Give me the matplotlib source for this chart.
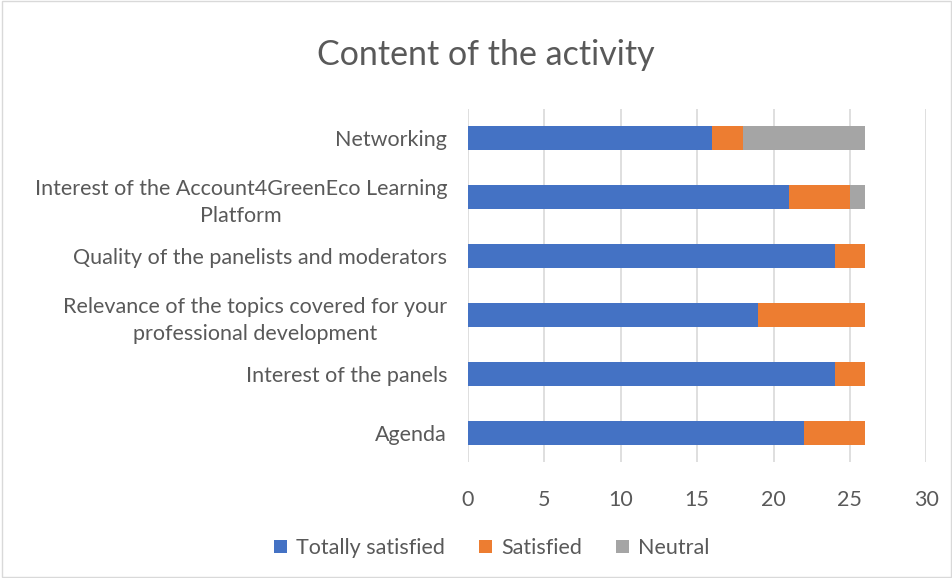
import matplotlib
matplotlib.use("Agg")
import matplotlib.pyplot as plt
import numpy as np

categories = [
    "Agenda",
    "Interest of the panels",
    "Relevance of the topics covered for your\nprofessional development",
    "Quality of the panelists and moderators",
    "Interest of the Account4GreenEco Learning\nPlatform",
    "Networking",
]
totally_satisfied = [22, 24, 19, 24, 21, 16]
satisfied = [4, 2, 7, 2, 4, 2]
neutral = [0, 0, 0, 0, 1, 8]

plt.rcParams['font.family'] = ['Lato', 'DejaVu Sans']
text_col = "#595959"

fig = plt.figure(figsize=(9.53, 5.78), dpi=100)
ax = fig.add_axes([0.491, 0.200, 0.481, 0.612])

y = np.arange(len(categories))
h = 0.41
ts = np.array(totally_satisfied)
sa = np.array(satisfied)
ne = np.array(neutral)
ax.barh(y, ts, height=h, color="#4472C4", label="Totally satisfied", zorder=3)
ax.barh(y, sa, left=ts, height=h, color="#ED7D31", label="Satisfied", zorder=3)
ax.barh(y, ne, left=ts + sa, height=h, color="#A5A5A5", label="Neutral", zorder=3)

ax.set_xlim(0, 30)
ax.set_ylim(-0.5, len(categories) - 0.5)
ax.set_xticks(range(0, 31, 5))
ax.set_yticks(y)
ax.set_yticklabels(categories, ha="right", multialignment="center", linespacing=1.45)
ax.grid(axis="x", color="#d9d9d9", linewidth=1.2, zorder=0)
for s in ax.spines.values():
    s.set_visible(False)
ax.tick_params(axis="both", length=0, labelsize=15.5, colors=text_col)
ax.tick_params(axis="x", pad=20)
ax.tick_params(axis="y", pad=15)

fig.suptitle("Content of the activity", x=0.51, y=0.932, fontsize=24.5, color=text_col)

fig.legend(loc="center", bbox_to_anchor=(0.516, 0.052), ncol=3, frameon=False,
           fontsize=15.5, labelcolor=text_col, handlelength=0.6, handleheight=0.6,
           columnspacing=1.6, handletextpad=0.4)

fig.patches.append(plt.Rectangle((0.002, 0.002), 0.996, 0.996, transform=fig.transFigure,
                                 fill=False, edgecolor="#d9d9d9", linewidth=1))

fig.savefig("out.png", dpi=100)
